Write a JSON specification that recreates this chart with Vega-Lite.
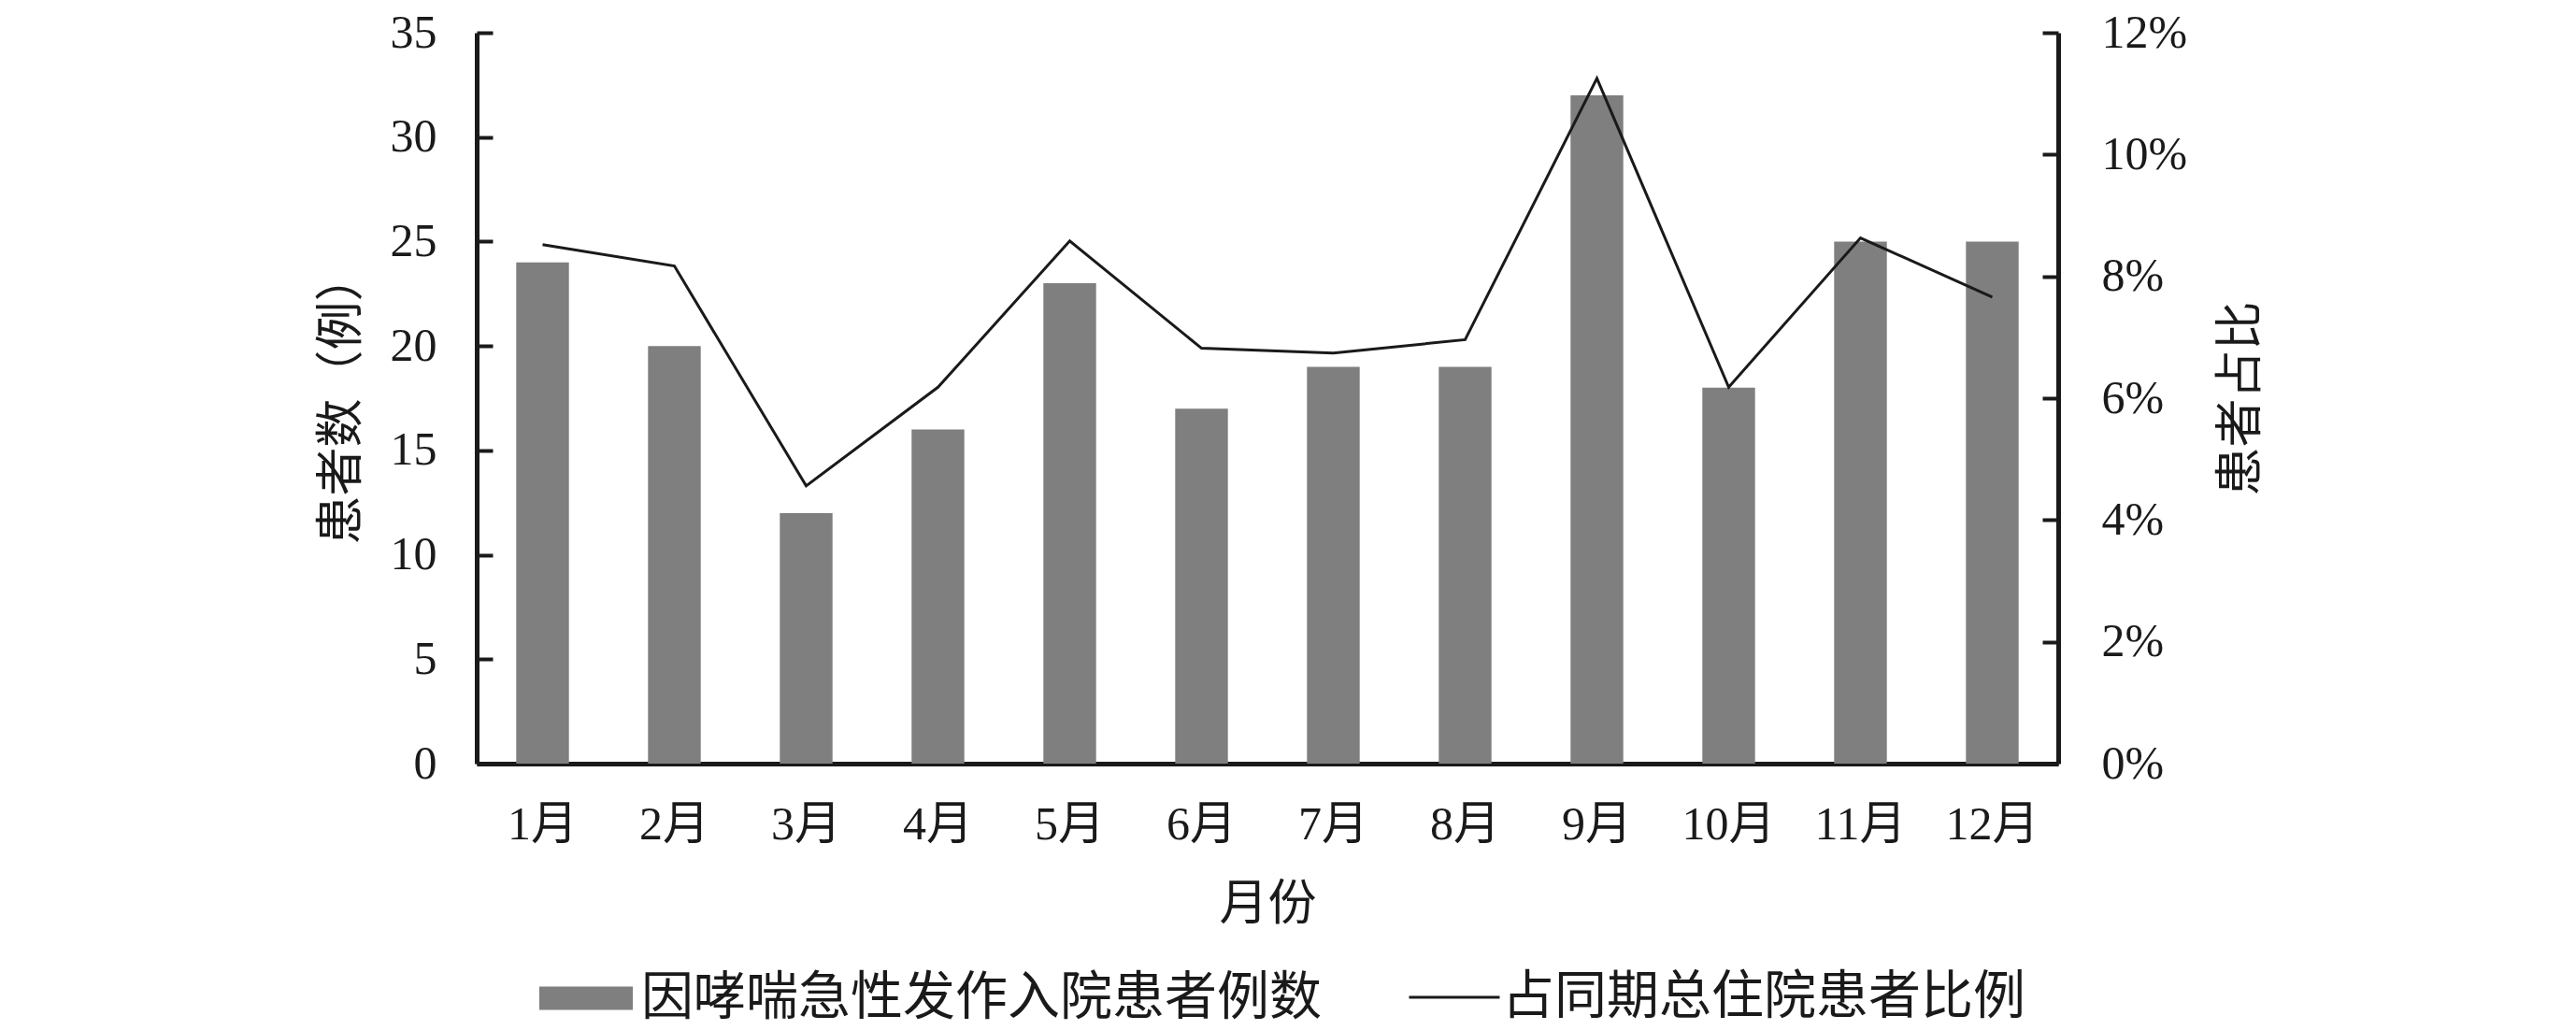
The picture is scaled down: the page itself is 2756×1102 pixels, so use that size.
{
  "$schema": "https://vega.github.io/schema/vega-lite/v6.json",
  "width": 1692,
  "height": 782,
  "autosize": {"type": "none"},
  "padding": {"left": 510, "top": 35, "right": 554, "bottom": 285},
  "background": "white",
  "config": {
    "view": {"stroke": null},
    "axis": {
      "grid": false,
      "domainColor": "#1a1a1a",
      "domainWidth": 5,
      "tickColor": "#1a1a1a",
      "tickWidth": 4,
      "labelColor": "#1a1a1a",
      "titleColor": "#1a1a1a",
      "labelFont": "Liberation Serif, Noto Sans CJK SC",
      "titleFont": "Noto Sans CJK SC",
      "labelFontSize": 50,
      "titleFontSize": 52,
      "titleFontWeight": "normal"
    },
    "legend": {
      "labelFont": "Noto Sans CJK SC",
      "labelFontSize": 56,
      "labelColor": "#1a1a1a",
      "labelLimit": 2000,
      "padding": 0
    }
  },
  "data": {
    "values": [
      {"month": "1月", "count": 24, "ratio": 0.0852},
      {"month": "2月", "count": 20, "ratio": 0.0817},
      {"month": "3月", "count": 12, "ratio": 0.0456},
      {"month": "4月", "count": 16, "ratio": 0.0618},
      {"month": "5月", "count": 23, "ratio": 0.0858},
      {"month": "6月", "count": 17, "ratio": 0.0682},
      {"month": "7月", "count": 19, "ratio": 0.0674},
      {"month": "8月", "count": 19, "ratio": 0.0696},
      {"month": "9月", "count": 32, "ratio": 0.1125},
      {"month": "10月", "count": 18, "ratio": 0.0618},
      {"month": "11月", "count": 25, "ratio": 0.0863},
      {"month": "12月", "count": 25, "ratio": 0.0766}
    ]
  },
  "encoding": {
    "x": {
      "field": "month",
      "type": "ordinal",
      "sort": null,
      "scale": {"paddingInner": 0, "paddingOuter": 0},
      "axis": {
        "title": "月份",
        "labelAngle": 0,
        "ticks": false,
        "labelPadding": 40,
        "titlePadding": 35
      }
    }
  },
  "layer": [
    {
      "mark": {"type": "bar", "width": {"band": 0.4}},
      "encoding": {
        "y": {
          "field": "count",
          "type": "quantitative",
          "scale": {"domain": [0, 35]},
          "axis": {
            "title": "患者数（例）",
            "values": [0, 5, 10, 15, 20, 25, 30, 35],
            "tickSize": -17,
            "labelPadding": 60,
            "titlePadding": 25
          }
        },
        "fill": {
          "datum": "因哮喘急性发作入院患者例数",
          "scale": {"range": ["#7f7f7f"]},
          "legend": {
            "title": null,
            "orient": "none",
            "legendX": 66,
            "legendY": 982,
            "symbolType": "M-1,-0.25H1V0.25H-1Z",
            "symbolSize": 10000,
            "labelOffset": 8
          }
        }
      }
    },
    {
      "mark": {"type": "line", "strokeWidth": 3},
      "encoding": {
        "y": {
          "field": "ratio",
          "type": "quantitative",
          "scale": {"domain": [0, 0.12]},
          "axis": {
            "title": "患者占比",
            "orient": "right",
            "format": ".0%",
            "values": [0, 0.02, 0.04, 0.06, 0.08, 0.1, 0.12],
            "tickSize": -17,
            "labelPadding": 63,
            "titleAngle": 270,
            "titlePadding": 85
          }
        },
        "stroke": {
          "datum": "占同期总住院患者比例",
          "scale": {"range": ["#1a1a1a"]},
          "legend": {
            "title": null,
            "orient": "none",
            "legendX": 996,
            "legendY": 982,
            "symbolType": "stroke",
            "symbolSize": 9400,
            "symbolStrokeWidth": 3,
            "labelOffset": 1
          }
        }
      }
    }
  ],
  "resolve": {"scale": {"y": "independent"}}
}
